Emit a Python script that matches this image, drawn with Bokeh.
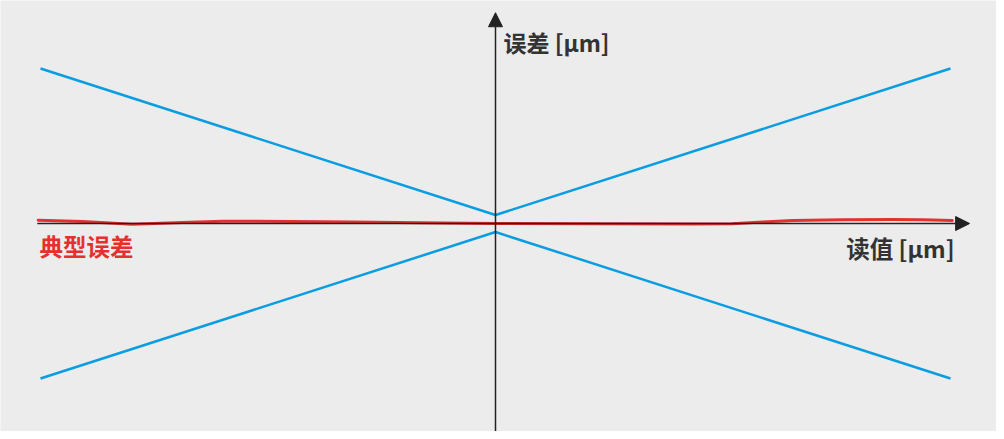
from bokeh.plotting import figure
from bokeh.models import Arrow, NormalHead, Range1d
from bokeh.core.properties import value
from bokeh.embed import file_html
from bokeh.resources import INLINE

# Envelope (max error band) in µm vs reading
env_x = [-100, 0, 100]
env_upper = [10.0, 0.55, 10.0]
env_lower = [-10.0, -0.55, -10.0]

# Typical error curve
typ_x = [-100.5, -90.8, -79.8, -68.8, -60.0, -44.6, -31.4, -11.6, 0.0, 21.3,
         43.3, 52.0, 58.7, 65.3, 76.3, 87.3, 93.8, 100.4]
typ_y = [0.21, 0.13, -0.045, 0.065, 0.15, 0.13, 0.10, 0.03, 0.0, -0.02,
         -0.03, -0.02, 0.10, 0.19, 0.24, 0.26, 0.245, 0.19]

x_axis_start, x_axis_end = -100.7, 104.2
y_axis_start, y_axis_end = -14.0, 13.6

y_label = "误差 [µm]"
x_label = "读值 [µm]"
typ_label = "典型误差"

BG = "#ececec"
BLUE = "#0a9de2"
RED = "#e5302e"
DARK = "#222222"
FONT = value("Noto Sans CJK SC")

p = figure(width=996, height=431, output_backend="svg", toolbar_location=None,
           x_axis_location=None, y_axis_location=None, min_border=0,
           x_range=Range1d(-108.79, 110.11), y_range=Range1d(-13.42, 14.39))
p.grid.visible = False
p.outline_line_color = None
p.background_fill_color = BG
p.border_fill_color = BG

# axes
p.add_layout(Arrow(end=NormalHead(size=14, fill_color=DARK, line_color=DARK),
                   x_start=0, y_start=y_axis_start, x_end=0, y_end=y_axis_end,
                   line_color=DARK, line_width=1.5))
p.add_layout(Arrow(end=NormalHead(size=14, fill_color=DARK, line_color=DARK),
                   x_start=x_axis_start, y_start=0, x_end=x_axis_end, y_end=0,
                   line_color=DARK, line_width=1.5))

p.line(env_x, env_upper, line_color=BLUE, line_width=2.5)
p.line(env_x, env_lower, line_color=BLUE, line_width=2.5)
p.line(typ_x, typ_y, line_color=RED, line_width=3, line_join="round", line_cap="round")

p.text(x=[1.76], y=[11.68], text=[y_label], text_font=FONT, text_font_style="bold",
       text_font_size="23px", text_color="#333333", text_align="left", text_baseline="middle")
p.text(x=[100.9], y=[-1.55], text=[x_label], text_font=FONT, text_font_style="bold",
       text_font_size="23.5px", text_color="#333333", text_align="right", text_baseline="middle")
p.text(x=[-100.2], y=[-1.48], text=[typ_label], text_font=FONT, text_font_style="bold",
       text_font_size="23.5px", text_color=RED, text_align="left", text_baseline="middle")

open("out.html", "w").write(file_html(p, INLINE))
